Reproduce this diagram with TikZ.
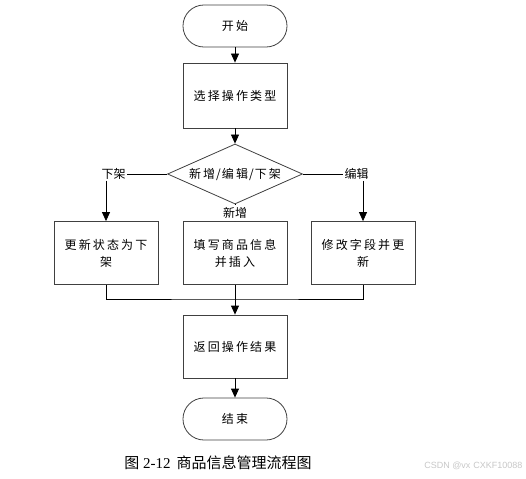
\documentclass[tikz,border=0pt]{standalone}
\usepackage{fontspec}
\setmainfont{Liberation Serif}
\newfontfamily\cjk[LetterSpace=18]{Noto Sans CJK SC}
\newfontfamily\cjkplain{Noto Sans CJK SC}
\newfontfamily\wmfont{Liberation Sans}
\usetikzlibrary{arrows.meta,shapes.geometric}
\tikzset{
  base/.style={draw=black!75, line width=0.8pt, fill=white, font=\fontsize{12}{17}\selectfont\cjk, align=center, inner sep=0pt},
  procbox/.style={base, minimum width=104pt, minimum height=63pt},
  termbox/.style={base, rounded corners=20.9pt, minimum width=104pt, minimum height=42pt},
  decbox/.style={base, shape=diamond, aspect=2.25, minimum width=135pt, minimum height=60pt, font=\fontsize{12}{14}\selectfont\cjk},
  lbl/.style={font=\fontsize{12}{14}\selectfont\cjkplain, inner sep=1pt, fill=white},
  conn/.style={black, line width=0.8pt},
  arr/.style={conn, -{Triangle[width=8pt,length=9pt]}}
}
\begin{document}
\begin{tikzpicture}[x=1pt,y=-1pt]
\useasboundingbox (0,0) rectangle (526,478);
\node[termbox] (start) at (235,26) {开始};
\node[procbox, minimum height=65pt] (sel) at (235,95.5) {选择操作类型};
\node[decbox] (dec) at (235,174) {新增\hspace{1pt}/\hspace{1pt}编辑\hspace{1pt}/\hspace{1pt}下架};
\node[procbox] (lbox) at (106,253) {更新状态为下\\架};
\node[procbox] (mbox) at (235,253) {填写商品信息\\并插入};
\node[procbox] (rbox) at (363,253) {修改字段并更\\新};
\node[procbox] (ret) at (235,346.5) {返回操作结果};
\node[termbox] (end) at (235,419) {结束};
\node[lbl] (ll) at (113.5,174) {下架};
\node[lbl] (lr) at (356.5,174) {编辑};
\coordinate (j) at (235,299);

\draw[arr] (start) -- (sel);
\draw[arr] (sel) -- (dec);
\draw[conn] (dec.west) -- (ll.east);
\draw[arr] (ll.south -| lbox.north) -- (lbox.north);
\draw[conn] (dec.east) -- (lr.west);
\draw[arr] (lr.south -| rbox.north) -- (rbox.north);
\draw[arr] (dec.south) -- (mbox.north);
\node[lbl, inner ysep=2pt] (ln) at (235,213) {新增};
\draw[conn] (lbox.south) |- (j) -| (rbox.south);
\draw[arr] (mbox.south) -- (ret.north);
\draw[arr] (ret) -- (end);

\node[font=\fontsize{15}{18}\selectfont, anchor=center] (cap) at (218,463) {{\cjkplain 图} 2-12\hspace{6pt}{\cjkplain 商品信息管理流程图}};
\node[font=\fontsize{9}{11}\selectfont\wmfont, text=black!22, anchor=east] (wm) at (526,466) {CSDN @vx\hspace{3pt}CXKF10088};
\end{tikzpicture}
\end{document}
